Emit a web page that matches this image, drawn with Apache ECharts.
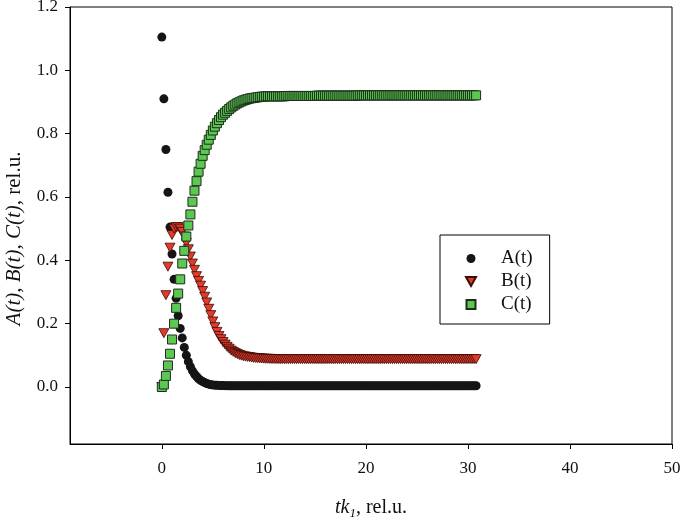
<!DOCTYPE html>
<html>
<head>
<meta charset="utf-8">
<script src="https://cdn.jsdelivr.net/npm/echarts@6/dist/echarts.min.js"></script>
<style>html,body{margin:0;padding:0;background:#fff}#c{width:685px;height:526px}</style>
</head>
<body>
<div id="c"></div>
<script>
// sampling times (tk1, rel.u.)
const tValues = [
0,0.2,0.4,0.6,0.8,1,1.2,1.4,1.6,1.8,2,2.2,2.4,2.6,2.8,3,3.2,3.4,3.6,3.8,
4,4.2,4.4,4.6,4.8,5,5.2,5.4,5.6,5.8,6,6.2,6.4,6.6,6.8,7,7.2,7.4,7.6,7.8,
8,8.2,8.4,8.6,8.8,9,9.2,9.4,9.6,9.8,10,10.2,10.4,10.6,10.8,11,11.2,11.4,11.6,11.8,
12,12.2,12.4,12.6,12.8,13,13.2,13.4,13.6,13.8,14,14.2,14.4,14.6,14.8,15,15.2,15.4,15.6,15.8,
16,16.2,16.4,16.6,16.8,17,17.2,17.4,17.6,17.8,18,18.2,18.4,18.6,18.8,19,19.2,19.4,19.6,19.8,
20,20.2,20.4,20.6,20.8,21,21.2,21.4,21.6,21.8,22,22.2,22.4,22.6,22.8,23,23.2,23.4,23.6,23.8,
24,24.2,24.4,24.6,24.8,25,25.2,25.4,25.6,25.8,26,26.2,26.4,26.6,26.8,27,27.2,27.4,27.6,27.8,
28,28.2,28.4,28.6,28.8,29,29.2,29.4,29.6,29.8,30,30.2,30.4,30.6,30.8
];
const seriesA = [
1.105,0.91,0.75,0.615,0.505,0.42,0.34,0.28,0.225,0.185,
0.155,0.125,0.10,0.08,0.064,0.051,0.041,0.033,0.026,0.021,
0.017,0.014,0.011,0.009,0.0075,0.0065,0.0058,0.0053,0.005,0.0047,
0.0045,0.0043,0.0042,0.0041,0.004,0.004,0.004,0.004,0.004,0.004,
0.004,0.004,0.004,0.004,0.004,0.004,0.004,0.004,0.004,0.004,
0.004,0.004,0.004,0.004,0.004,0.004,0.004,0.004,0.004,0.004,
0.004,0.004,0.004,0.004,0.004,0.004,0.004,0.004,0.004,0.004,
0.004,0.004,0.004,0.004,0.004,0.004,0.004,0.004,0.004,0.004,
0.004,0.004,0.004,0.004,0.004,0.004,0.004,0.004,0.004,0.004,
0.004,0.004,0.004,0.004,0.004,0.004,0.004,0.004,0.004,0.004,
0.004,0.004,0.004,0.004,0.004,0.004,0.004,0.004,0.004,0.004,
0.004,0.004,0.004,0.004,0.004,0.004,0.004,0.004,0.004,0.004,
0.004,0.004,0.004,0.004,0.004,0.004,0.004,0.004,0.004,0.004,
0.004,0.004,0.004,0.004,0.004,0.004,0.004,0.004,0.004,0.004,
0.004,0.004,0.004,0.004,0.004,0.004,0.004,0.004,0.004,0.004,
0.004,0.004,0.004,0.004,0.004
];
const seriesB = [
0,0.17,0.29,0.38,0.44,0.48,0.50,0.505,0.505,0.50,
0.49,0.475,0.455,0.435,0.412,0.39,0.37,0.35,0.335,0.32,
0.303,0.285,0.267,0.247,0.227,0.207,0.189,0.174,0.161,0.151,
0.142,0.134,0.127,0.121,0.115,0.111,0.107,0.104,0.101,0.099,
0.097,0.096,0.095,0.094,0.093,0.092,0.0915,0.091,0.0905,0.090,
0.0895,0.089,0.089,0.0888,0.0886,0.0884,0.0882,0.088,0.088,0.088,
0.088,0.088,0.088,0.088,0.088,0.088,0.088,0.088,0.088,0.088,
0.088,0.088,0.088,0.088,0.088,0.088,0.088,0.088,0.088,0.088,
0.088,0.088,0.088,0.088,0.088,0.088,0.088,0.088,0.088,0.088,
0.088,0.088,0.088,0.088,0.088,0.088,0.088,0.088,0.088,0.088,
0.088,0.088,0.088,0.088,0.088,0.088,0.088,0.088,0.088,0.088,
0.088,0.088,0.088,0.088,0.088,0.088,0.088,0.088,0.088,0.088,
0.088,0.088,0.088,0.088,0.088,0.088,0.088,0.088,0.088,0.088,
0.088,0.088,0.088,0.088,0.088,0.088,0.088,0.088,0.088,0.088,
0.088,0.088,0.088,0.088,0.088,0.088,0.088,0.088,0.088,0.088,
0.088,0.088,0.088,0.088,0.088
];
const seriesC = [
0.0,0.008,0.035,0.068,0.105,0.15,0.20,0.25,0.295,0.34,
0.39,0.43,0.475,0.51,0.545,0.585,0.62,0.65,0.68,0.705,
0.73,0.748,0.765,0.781,0.796,0.81,0.822,0.833,0.843,0.852,
0.86,0.866,0.872,0.878,0.883,0.888,0.892,0.896,0.899,0.902,
0.905,0.907,0.909,0.911,0.912,0.913,0.914,0.915,0.916,0.917,
0.917,0.918,0.918,0.918,0.918,0.918,0.918,0.918,0.918,0.918,
0.918,0.919,0.919,0.919,0.919,0.919,0.919,0.919,0.919,0.919,
0.919,0.919,0.919,0.919,0.919,0.919,0.92,0.92,0.92,0.92,
0.92,0.92,0.92,0.92,0.92,0.92,0.92,0.92,0.92,0.92,
0.92,0.92,0.92,0.92,0.92,0.92,0.921,0.921,0.921,0.921,
0.921,0.921,0.921,0.921,0.921,0.921,0.921,0.921,0.921,0.921,
0.921,0.921,0.921,0.921,0.921,0.921,0.921,0.921,0.921,0.921,
0.921,0.921,0.921,0.921,0.921,0.921,0.921,0.921,0.921,0.921,
0.921,0.921,0.921,0.921,0.921,0.921,0.921,0.921,0.921,0.921,
0.921,0.921,0.921,0.921,0.921,0.921,0.921,0.921,0.921,0.921,
0.921,0.921,0.921,0.921,0.921
];
const seriesNames = ['A(t)', 'B(t)', 'C(t)'];
const xTicks = [0, 10, 20, 30, 40, 50];
const yTicks = [0, 0.2, 0.4, 0.6, 0.8, 1.0, 1.2];

function pairs(vals) { return tValues.map((t, i) => [t, vals[i]]); }

const FONT = '"Liberation Serif", "Times New Roman", serif';
const chart = echarts.init(document.getElementById('c'), null, {renderer: 'canvas'});
chart.setOption({
  animation: false,
  backgroundColor: '#fff',
  grid: {left: 70, right: 13, top: 7, bottom: 82, containLabel: false, outerBoundsMode: 'none',
    show: true, borderColor: '#000', borderWidth: 1},
  xAxis: {
    type: 'value', min: -9, max: 50,
    axisLine: {show: true, onZero: false, lineStyle: {color: '#000', width: 1}},
    axisTick: {show: true, length: 5, customValues: xTicks, lineStyle: {color: '#000'}},
    axisLabel: {customValues: xTicks, margin: 16, color: '#111', fontFamily: FONT, fontSize: 17},
    splitLine: {show: false},
    name: '{i|tk}{s|1}{n|, rel.u.}',
    nameLocation: 'middle', nameGap: 52,
    nameTextStyle: {
      fontFamily: FONT, fontSize: 20, color: '#111',
      rich: {
        i: {fontFamily: FONT, fontSize: 20, fontStyle: 'italic', color: '#111'},
        s: {fontFamily: FONT, fontSize: 13, fontStyle: 'italic', color: '#111', padding: [11, 0, 0, 0]},
        n: {fontFamily: FONT, fontSize: 20, color: '#111'}
      }
    }
  },
  yAxis: {
    type: 'value', min: -0.18, max: 1.2,
    axisLine: {show: true, onZero: false, lineStyle: {color: '#000', width: 1}},
    axisTick: {show: true, length: 5, customValues: yTicks, lineStyle: {color: '#000'}},
    axisLabel: {customValues: yTicks, margin: 12, color: '#111', fontFamily: FONT, fontSize: 17,
      formatter: v => v.toFixed(1)},
    splitLine: {show: false},
    name: '{i|A(t), B(t), C(t),}{n| rel.u.}',
    nameLocation: 'middle', nameGap: 45, nameRotate: 90,
    nameTextStyle: {
      fontFamily: FONT, fontSize: 21, color: '#111', padding: [0, 26, 0, 0],
      rich: {
        i: {fontFamily: FONT, fontSize: 21, fontStyle: 'italic', color: '#111'},
        n: {fontFamily: FONT, fontSize: 21, color: '#111'}
      }
    }
  },
  legend: {
    data: seriesNames,
    orient: 'vertical', left: 440, top: 235,
    borderColor: '#000', borderWidth: 1, backgroundColor: '#fff',
    padding: [14, 17, 10, 25],
    itemWidth: 50, itemHeight: 9, itemGap: 4,
    textStyle: {fontFamily: FONT, fontSize: 19, lineHeight: 18, color: '#111'}
  },
  series: [
    {name: seriesNames[0], type: 'scatter', data: pairs(seriesA), symbol: 'circle', symbolSize: 9,
      itemStyle: {color: '#151515', opacity: 1}},
    {name: seriesNames[1], type: 'scatter', data: pairs(seriesB), symbol: 'path://M0,0L10,0L5,9Z', symbolSize: [10, 9],
      itemStyle: {color: '#e23b2a', borderColor: '#3a0c08', borderWidth: 0.8, opacity: 1}},
    {name: seriesNames[2], type: 'scatter', data: pairs(seriesC), symbol: 'path://M0,0L10,0L10,10L0,10Z', symbolSize: 9,
      itemStyle: {color: '#5cc853', borderColor: '#1c2e1a', borderWidth: 1, opacity: 1}}
  ]
});
</script>
</body>
</html>
